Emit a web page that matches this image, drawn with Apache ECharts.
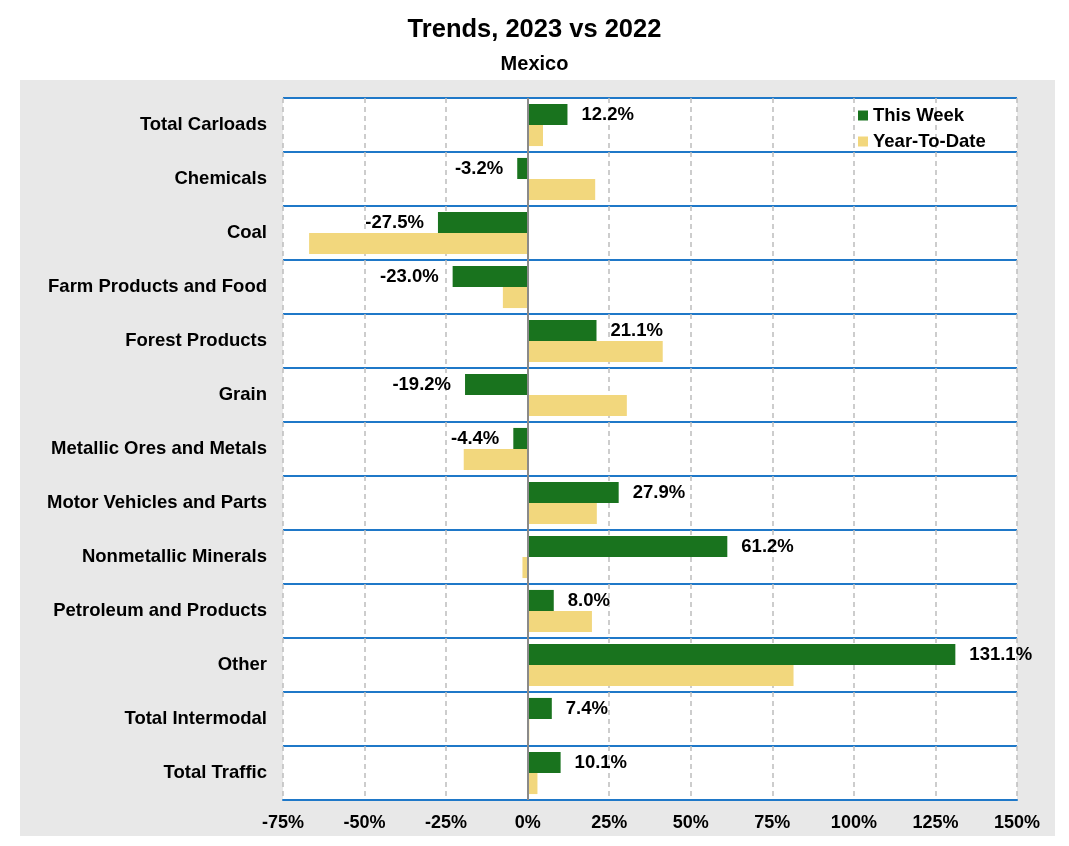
<!DOCTYPE html>
<html>
<head>
<meta charset="utf-8">
<script src="https://cdn.jsdelivr.net/npm/echarts@6/dist/echarts.min.js"></script>
<style>html,body{margin:0;padding:0;background:#fff}#c{width:1069px;height:846px}</style>
</head>
<body>
<div id="c"></div>
<script>
const categories = ["Total Carloads","Chemicals","Coal","Farm Products and Food","Forest Products","Grain","Metallic Ores and Metals","Motor Vehicles and Parts","Nonmetallic Minerals","Petroleum and Products","Other","Total Intermodal","Total Traffic"];
const thisWeek = [12.2, -3.2, -27.5, -23.0, 21.1, -19.2, -4.4, 27.9, 61.2, 8.0, 131.1, 7.4, 10.1];
const yearToDate = [4.7, 20.7, -67.0, -7.6, 41.4, 30.4, -19.6, 21.2, -1.6, 19.7, 81.5, 0.5, 3.0];
const xMin = -75, xMax = 150, xStep = 25;

const FONT = 'Liberation Sans, Arial, sans-serif';
const chart = echarts.init(document.getElementById('c'), null, {renderer: 'canvas'});
chart.setOption({
  backgroundColor: '#fff',
  animation: false,
  graphic: [{type: 'rect', left: 20, top: 80, shape: {width: 1035, height: 756}, style: {fill: '#e8e8e8'}, z: -10}],
  title: [
    {text: 'Trends, 2023 vs 2022', left: 'center', top: 12, textStyle: {fontFamily: FONT, fontWeight: 'bold', fontSize: 25.5, color: '#000'}},
    {text: 'Mexico', left: 'center', top: 49, textStyle: {fontFamily: FONT, fontWeight: 'bold', fontSize: 20, color: '#000'}}
  ],
  legend: {
    orient: 'vertical', left: 853, top: 101, itemWidth: 10, itemHeight: 10, itemGap: 7,
    icon: 'rect',
    textStyle: {fontFamily: FONT, fontWeight: 'bold', fontSize: 18.5, color: '#000', padding: [0,0,0,0]},
    data: ['This Week', 'Year-To-Date']
  },
  grid: {left: 283, right: 52, top: 98, bottom: 46, show: true, backgroundColor: '#fff', borderWidth: 0},
  xAxis: {
    type: 'value', min: xMin, max: xMax, interval: xStep,
    axisLine: {show: true, onZero: false, lineStyle: {color: '#1f78c8', width: 2}},
    axisTick: {show: false},
    axisLabel: {formatter: v => v + '%', fontFamily: FONT, fontWeight: 'bold', fontSize: 18, color: '#000', margin: 14},
    splitLine: {show: true, lineStyle: {color: '#bdbdbd', type: [5, 4], width: 1.5}}
  },
  yAxis: {
    type: 'category', data: categories, inverse: true,
    axisLine: {show: false},
    axisTick: {show: false},
    axisLabel: {fontFamily: FONT, fontWeight: 'bold', fontSize: 18.5, color: '#000', margin: 16, padding: [3, 0, 0, 0]},
    splitLine: {show: true, interval: 0, lineStyle: {color: '#1f78c8', width: 2}}
  },
  series: [
    {
      name: 'This Week', type: 'bar', barGap: '0%', barCategoryGap: '22%',
      itemStyle: {color: '#19731e'},
      data: thisWeek.map(v => ({value: v, label: {position: v >= 0 ? 'right' : 'left'}})),
      label: {show: true, distance: 14, padding: [3, 0, 0, 0], formatter: p => p.value.toFixed(1) + '%', fontFamily: FONT, fontWeight: 'bold', fontSize: 18.5, color: '#000'},
      markLine: {silent: true, symbol: 'none', label: {show: false}, lineStyle: {color: '#8a8a8a', type: 'solid', width: 2}, data: [{xAxis: 0}]}
    },
    {
      name: 'Year-To-Date', type: 'bar', barGap: '0%', barCategoryGap: '22%',
      itemStyle: {color: '#f2d77d'},
      data: yearToDate
    }
  ]
});
</script>
</body>
</html>
